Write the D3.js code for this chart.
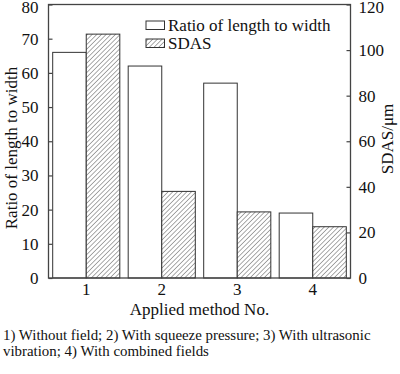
<!DOCTYPE html>
<html>
<head>
<meta charset="utf-8">
<script src="https://cdn.jsdelivr.net/npm/d3@7"></script>
<style>
  html, body { margin: 0; padding: 0; background: #fff; }
  svg { display: block; }
  svg text { font-family: "Liberation Serif", Tinos, "Times New Roman", Times, "DejaVu Serif", serif !important; fill: #111; }
</style>
</head>
<body>
<svg id="chart" width="400" height="374"></svg>
<script>
const categories = ["1", "2", "3", "4"];
const ratioValues = [66, 62, 57, 19];
const sdasValues = [107, 38, 29, 22.5];
const leftTicks = [0, 10, 20, 30, 40, 50, 60, 70, 80];
const rightTicks = [0, 20, 40, 60, 80, 100, 120];
const seriesNames = ["Ratio of length to width", "SDAS"];
const captionLines = [
  "1) Without field; 2) With squeeze pressure; 3) With ultrasonic",
  "vibration; 4) With combined fields"
];

const svg = d3.select("#chart");
const m = { left: 48.5, right: 350.5, top: 4.5, bottom: 278 };

const defs = svg.append("defs");
const pat = defs.append("pattern")
  .attr("id", "hatch")
  .attr("patternUnits", "userSpaceOnUse")
  .attr("width", 3.3).attr("height", 3.3)
  .attr("patternTransform", "rotate(45)");
pat.append("rect").attr("width", 3.3).attr("height", 3.3).attr("fill", "#fff");
pat.append("line").attr("x1", 0).attr("y1", 0).attr("x2", 0).attr("y2", 3.3)
  .attr("stroke", "#555").attr("stroke-width", 1);

const x0 = d3.scaleBand().domain(categories).range([m.left, m.right]).paddingInner(0).paddingOuter(0);
const x1 = d3.scaleBand().domain([0, 1]).range([0, x0.bandwidth()]).paddingOuter(0.125).paddingInner(0);
const yL = d3.scaleLinear().domain([0, 80]).range([m.bottom, m.top]);
const yR = d3.scaleLinear().domain([0, 120]).range([m.bottom, m.top]);

const FS = "17px";

// bars
const g = svg.append("g");
categories.forEach((c, i) => {
  g.append("rect")
    .attr("x", x0(c) + x1(0)).attr("width", x1.bandwidth())
    .attr("y", yL(ratioValues[i])).attr("height", yL(0) - yL(ratioValues[i]))
    .attr("fill", "#fff").attr("stroke", "#333").attr("stroke-width", 1);
  g.append("rect")
    .attr("x", x0(c) + x1(1)).attr("width", x1.bandwidth())
    .attr("y", yR(sdasValues[i])).attr("height", yR(0) - yR(sdasValues[i]))
    .attr("fill", "url(#hatch)").attr("stroke", "#333").attr("stroke-width", 1);
});

// frame
svg.append("rect")
  .attr("x", m.left).attr("y", m.top)
  .attr("width", m.right - m.left).attr("height", m.bottom - m.top)
  .attr("fill", "none").attr("stroke", "#444").attr("stroke-width", 1.3);

// left axis
const axL = svg.append("g").attr("transform", `translate(${m.left},0)`)
  .call(d3.axisLeft(yL).tickValues(leftTicks).tickSizeInner(-4).tickSizeOuter(0).tickPadding(10));
axL.select(".domain").remove();
axL.selectAll("line").attr("stroke", "#444").attr("stroke-width", 1.2);
axL.selectAll("text").style("font-size", FS).attr("fill", "#111")
  .attr("dy", d => d === 80 ? "0.45em" : "0.32em");

// right axis
const axR = svg.append("g").attr("transform", `translate(${m.right},0)`)
  .call(d3.axisRight(yR).tickValues(rightTicks).tickSizeInner(-4).tickSizeOuter(0).tickPadding(8));
axR.select(".domain").remove();
axR.selectAll("line").attr("stroke", "#444").attr("stroke-width", 1.2);
axR.selectAll("text").style("font-size", FS).attr("fill", "#111")
  .attr("dy", d => d === 120 ? "0.45em" : "0.32em");

// bottom axis labels
const axB = svg.append("g").attr("transform", `translate(0,${m.bottom})`)
  .call(d3.axisBottom(x0).tickSize(0).tickPadding(5));
axB.select(".domain").remove();
axB.selectAll("text").style("font-size", FS).attr("fill", "#111");

// axis titles
svg.append("text").attr("transform", `translate(17,148) rotate(-90)`)
  .attr("text-anchor", "middle").style("font-size", FS).text("Ratio of length to width");
svg.append("text").attr("transform", `translate(393,139) rotate(-90)`)
  .attr("text-anchor", "middle").style("font-size", FS).text("SDAS/μm");
svg.append("text").attr("x", (m.left + m.right) / 2).attr("y", 315)
  .attr("text-anchor", "middle").style("font-size", FS).text("Applied method No.");

// legend
const legY = [21, 39];
seriesNames.forEach((n, i) => {
  svg.append("rect").attr("x", 146).attr("y", legY[i]).attr("width", 18.5).attr("height", 8.5)
    .attr("fill", i === 0 ? "#fff" : "url(#hatch)").attr("stroke", "#333").attr("stroke-width", 1);
  svg.append("text").attr("x", 168).attr("y", legY[i] + 10)
    .style("font-size", FS).text(n);
});

// caption
captionLines.forEach((t, i) => {
  svg.append("text").attr("x", 3).attr("y", 340 + i * 15.5)
    .style("font-size", "14.9px").text(t);
});
</script>
</body>
</html>
